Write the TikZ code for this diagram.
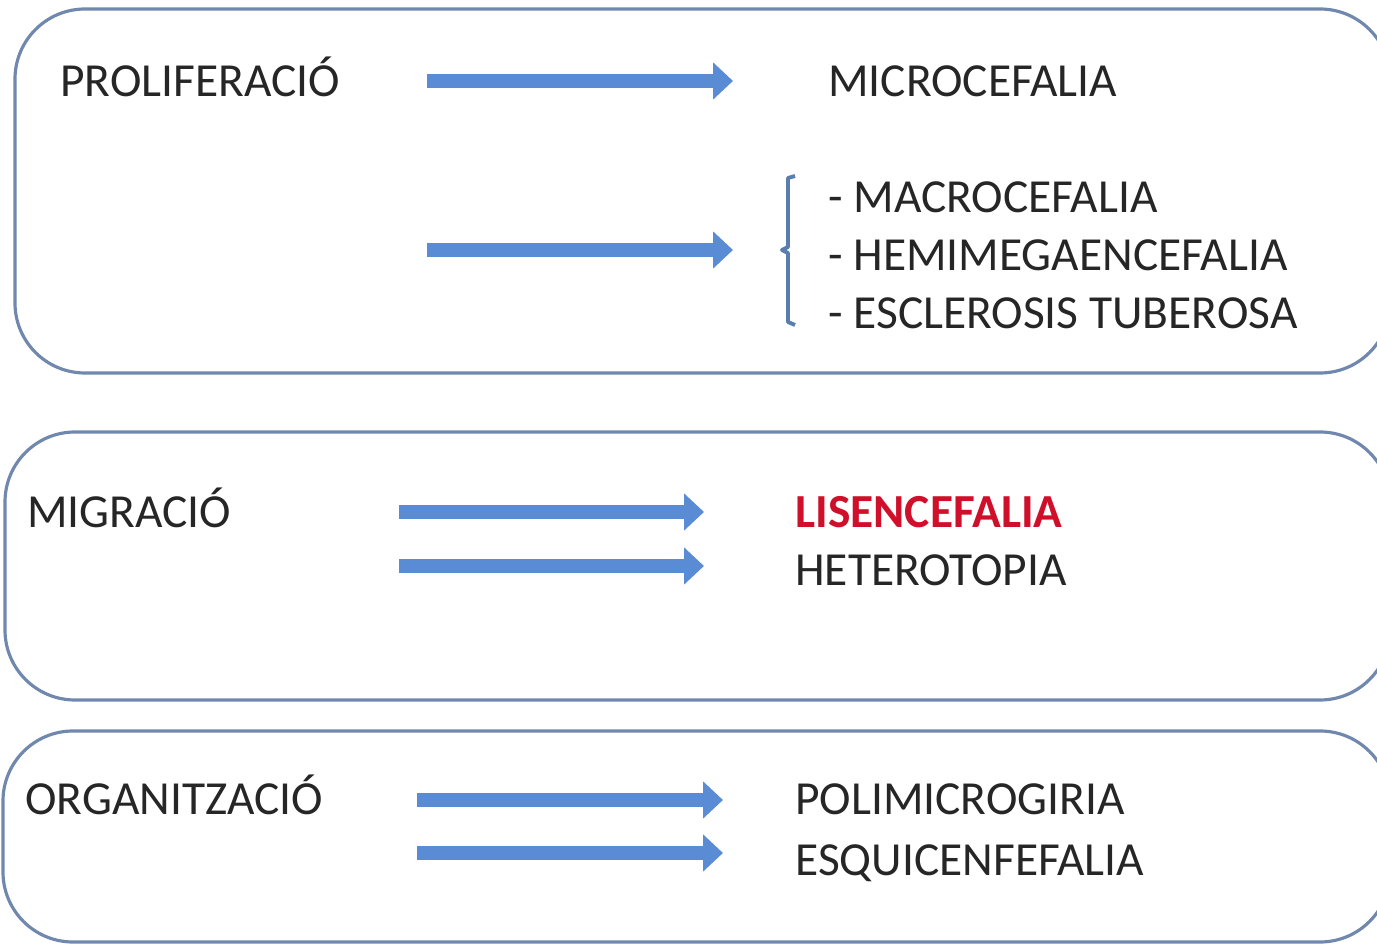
\documentclass[tikz,border=0pt]{standalone}
\usepackage{fontspec}
\setmainfont{Carlito}
\usetikzlibrary{arrows.meta}
\definecolor{frameblue}{HTML}{7088AE}
\definecolor{arrowblue}{HTML}{5A8CD6}
\definecolor{bracketblue}{HTML}{5A7DB0}
\definecolor{alertred}{HTML}{D0102A}

\begin{document}
\begin{tikzpicture}[x=0.02cm,y=-0.02cm,
  stage/.style={draw=frameblue,line width=1.8pt,rounded corners=1.4cm,fill=white},
  lbl/.style={anchor=base west,inner sep=0pt,font=\fontsize{27}{32}\selectfont,text=black!85},
  arr/.style={-{Triangle[width=20.4pt,length=11.3pt]},line width=8.5pt,arrowblue}
]
\useasboundingbox (0,0) rectangle (1377,945);

% the three stages
\draw[stage] (15,9) rectangle (1390,373);
\draw[stage] (5,432) rectangle (1390,700);
\draw[stage] (3,731) rectangle (1390,942);

% proliferacio
\node[lbl] (prolif) at (60,97) {PROLIFERACIÓ};
\node[lbl] (microcef) at (828,97) {MICROCEFALIA};
\node[lbl] (macro) at (828,213) {- MACROCEFALIA};
\node[lbl] (hemi) at (828,271) {- HEMIMEGAENCEFALIA};
\node[lbl] (escl) at (828,329) {- ESCLEROSIS TUBEROSA};
\coordinate (p1s) at (427,81);  \coordinate (p1e) at (733,81);
\coordinate (p2s) at (427,250); \coordinate (p2e) at (733,250);
\draw[arr] (p1s) -- (p1e);
\draw[arr] (p2s) -- (p2e);
\draw[bracketblue,line width=2.2pt,line join=round]
  (795,176) -- (788,178) -- (788,247) -- (782,250) -- (788,253) -- (788,322) -- (795,325);

% migracio
\node[lbl] (migr) at (27,528) {MIGRACIÓ};
\node[lbl,text=alertred,font=\fontsize{27}{32}\selectfont\bfseries] (lisen) at (795,528) {LISENCEFALIA};
\node[lbl] (hetero) at (795,586) {HETEROTOPIA};
\coordinate (m1s) at (399,512); \coordinate (m1e) at (704,512);
\coordinate (m2s) at (399,566); \coordinate (m2e) at (704,566);
\draw[arr] (m1s) -- (m1e);
\draw[arr] (m2s) -- (m2e);

% organitzacio
\node[lbl] (organ) at (25,815) {ORGANITZACIÓ};
\node[lbl] (polimi) at (795,815) {POLIMICROGIRIA};
\node[lbl] (esqui) at (795,875) {ESQUICENFEFALIA};
\coordinate (o1s) at (417,800); \coordinate (o1e) at (723,800);
\coordinate (o2s) at (417,853); \coordinate (o2e) at (723,853);
\draw[arr] (o1s) -- (o1e);
\draw[arr] (o2s) -- (o2e);
\end{tikzpicture}
\end{document}
